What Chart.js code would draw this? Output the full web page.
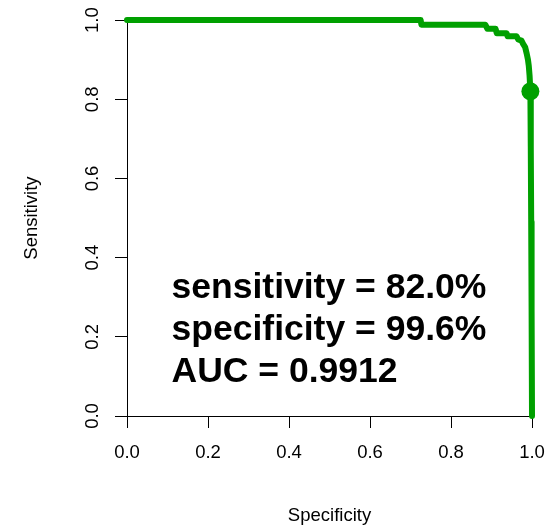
<!DOCTYPE html>
<html><head><meta charset="utf-8">
<script src="https://cdn.jsdelivr.net/npm/chart.js@4"></script>
<style>html,body{margin:0;padding:0;background:#fff}#wrap{width:555px;height:525px}</style>
</head><body><div id="wrap"><canvas id="c" width="555" height="525"></canvas></div>
<script>
// ROC curve (x = specificity, y = sensitivity)
const specificity = [0, 0.725, 0.727, 0.885, 0.89, 0.91, 0.913, 0.937, 0.94, 0.962, 0.966, 0.974, 0.978, 0.983, 0.987, 0.99, 0.992, 0.994, 0.996, 0.997, 0.998, 0.999, 1.0];
const sensitivity = [1, 1, 0.988, 0.988, 0.978, 0.978, 0.967, 0.967, 0.959, 0.959, 0.951, 0.948, 0.94, 0.932, 0.915, 0.9, 0.885, 0.86, 0.82, 0.68, 0.49, 0.27, 0];
const cutoffSpecificity = [0.996];
const cutoffSensitivity = [0.820];
const xTicks = [0, 0.2, 0.4, 0.6, 0.8, 1.0];
const yTicks = [0, 0.2, 0.4, 0.6, 0.8, 1.0];
const annotationLines = ["sensitivity = 82.0%", "specificity = 99.6%", "AUC = 0.9912"];
const annotationX = 0.11;
const annotationY = [0.297, 0.192, 0.087];

const GREEN = '#00A000';
const FONT = '"Liberation Sans", Arial, sans-serif';

const annotate = {
  id: 'annotate',
  afterDatasetsDraw(chart) {
    const ctx = chart.ctx, xs = chart.scales.x, ys = chart.scales.y;
    ctx.save();
    ctx.font = 'bold 35.5px ' + FONT;
    ctx.fillStyle = '#000';
    ctx.textAlign = 'left';
    ctx.textBaseline = 'alphabetic';
    annotationLines.forEach((t, i) => {
      ctx.fillText(t, xs.getPixelForValue(annotationX), ys.getPixelForValue(annotationY[i]));
    });
    ctx.restore();
  }
};

new Chart(document.getElementById('c'), {
  type: 'scatter',
  data: {
    datasets: [
      {
        data: specificity.map((x, i) => ({x: x, y: sensitivity[i]})),
        showLine: true,
        borderColor: GREEN,
        borderWidth: 6,
        borderCapStyle: 'round',
        borderJoinStyle: 'round',
        pointRadius: 0,
        tension: 0,
        fill: false,
        clip: false
      },
      {
        data: cutoffSpecificity.map((x, i) => ({x: x, y: cutoffSensitivity[i]})),
        showLine: false,
        pointRadius: 9,
        pointBackgroundColor: GREEN,
        pointBorderWidth: 0,
        pointBorderColor: GREEN,
        clip: false
      }
    ]
  },
  options: {
    responsive: false,
    animation: false,
    devicePixelRatio: 1,
    layout: {padding: {top: 20, right: 23, left: 0, bottom: 0}},
    plugins: {legend: {display: false}, tooltip: {enabled: false}},
    scales: {
      x: {
        type: 'linear', min: 0, max: 1,
        afterBuildTicks: s => { s.ticks = xTicks.map(v => ({value: v})); },
        afterFit: s => { s.height = 109; s.paddingRight = 0; },
        ticks: {
          callback: v => Number(v).toFixed(1),
          font: {family: FONT, size: 18.5},
          color: '#000',
          padding: 14,
          maxRotation: 0, minRotation: 0
        },
        grid: {drawOnChartArea: false, drawTicks: true, tickLength: 12, tickColor: '#000', color: '#000', lineWidth: 1},
        border: {display: true, color: '#000', width: 1},
        title: {display: true, text: 'Specificity', color: '#000', font: {family: FONT, size: 18.5}, padding: {top: 0, bottom: -2}}
      },
      y: {
        type: 'linear', min: 0, max: 1,
        afterBuildTicks: s => { s.ticks = yTicks.map(v => ({value: v})); },
        afterFit: s => { s.width = 127; },
        ticks: {
          callback: v => Number(v).toFixed(1),
          font: {family: FONT, size: 18.5},
          color: '#000',
          padding: 9,
          crossAlign: 'center',
          minRotation: 90, maxRotation: 90
        },
        grid: {drawOnChartArea: false, drawTicks: true, tickLength: 12, tickColor: '#000', color: '#000', lineWidth: 1},
        border: {display: true, color: '#000', width: 1},
        title: {display: true, text: 'Sensitivity', color: '#000', font: {family: FONT, size: 18.5}, padding: {top: 21, bottom: 0}}
      }
    }
  },
  plugins: [annotate]
});
</script>
</body></html>
